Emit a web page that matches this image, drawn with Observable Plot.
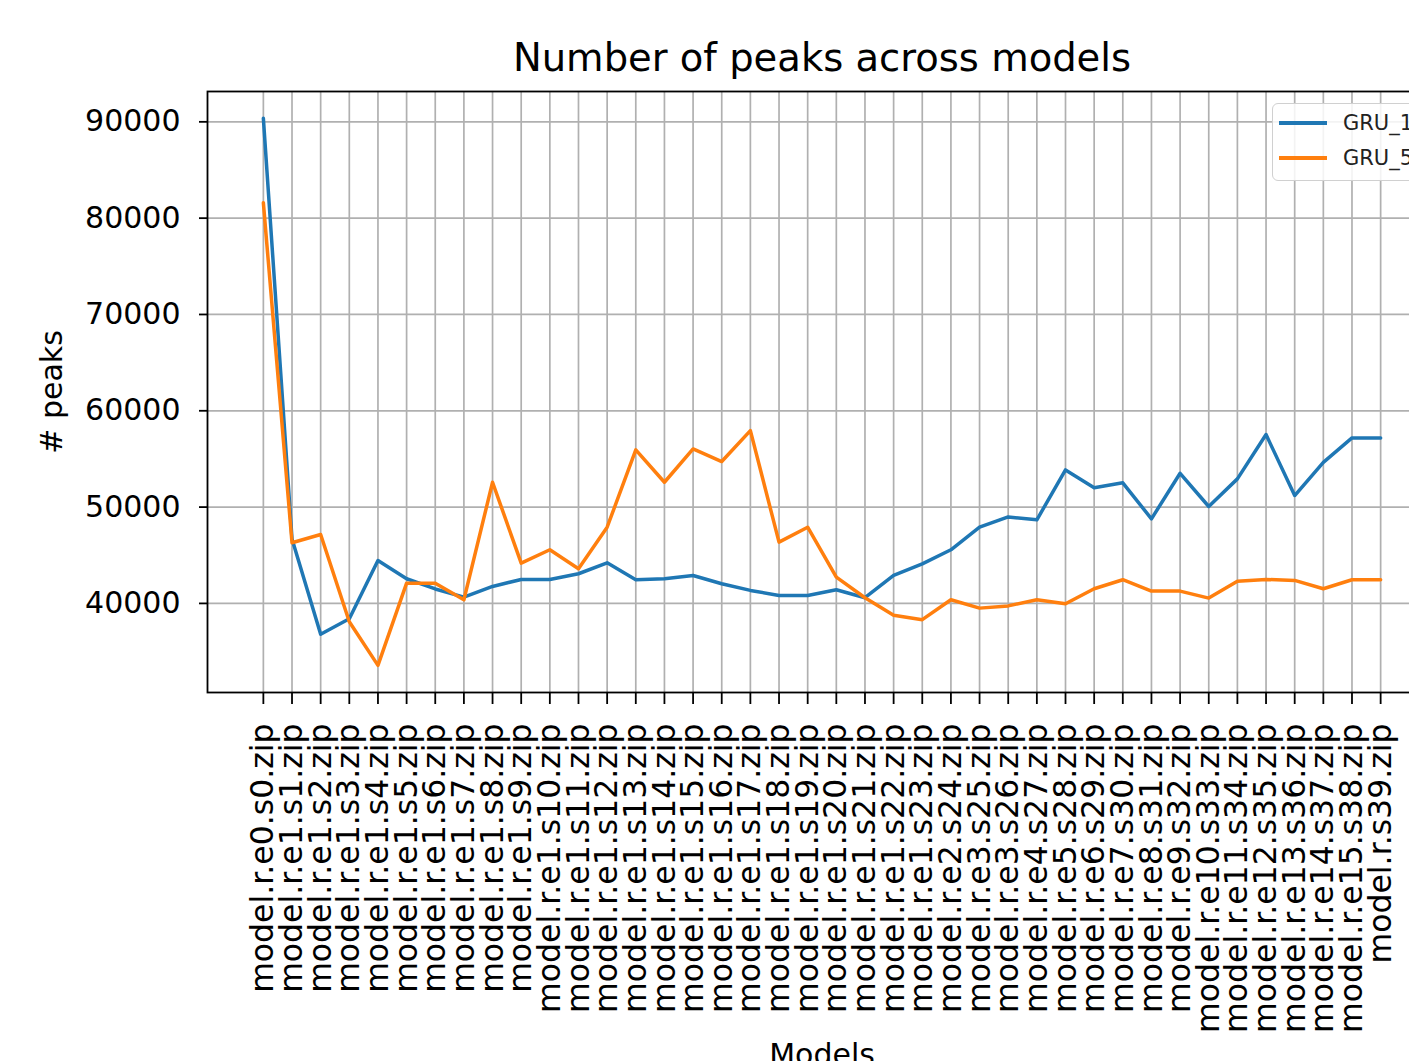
<!DOCTYPE html>
<html>
<head>
<meta charset="utf-8">
<script src="https://cdn.jsdelivr.net/npm/d3@7"></script>
<script src="https://cdn.jsdelivr.net/npm/@observablehq/plot@0.6"></script>
<style>
  html, body { margin: 0; padding: 0; background: #fff; overflow: hidden; width: 1409px; height: 1061px; }
  #wrap { position: relative; width: 1480px; height: 1061px; }
  #legend {
    position: absolute; left: 1272px; top: 103px; width: 200px; height: 76px;
    border: 1.5px solid #d0d0d0; border-radius: 6px; background: rgba(255,255,255,0.85);
    font-family: "DejaVu Sans", sans-serif; font-size: 21px; color: #222;
  }
  .item { position: absolute; left: 6px; height: 24px; display: flex; align-items: center; }
  .sw { width: 48px; height: 3.3px; margin-right: 16px; }
</style>
</head>
<body>
<div id="wrap"><div id="chart"></div>
<div id="legend"></div>
</div>
<script>
const models = [
  "model.r.e0.s0.zip","model.r.e1.s1.zip","model.r.e1.s2.zip","model.r.e1.s3.zip","model.r.e1.s4.zip",
  "model.r.e1.s5.zip","model.r.e1.s6.zip","model.r.e1.s7.zip","model.r.e1.s8.zip","model.r.e1.s9.zip",
  "model.r.e1.s10.zip","model.r.e1.s11.zip","model.r.e1.s12.zip","model.r.e1.s13.zip","model.r.e1.s14.zip",
  "model.r.e1.s15.zip","model.r.e1.s16.zip","model.r.e1.s17.zip","model.r.e1.s18.zip","model.r.e1.s19.zip",
  "model.r.e1.s20.zip","model.r.e1.s21.zip","model.r.e1.s22.zip","model.r.e1.s23.zip","model.r.e2.s24.zip",
  "model.r.e3.s25.zip","model.r.e3.s26.zip","model.r.e4.s27.zip","model.r.e5.s28.zip","model.r.e6.s29.zip",
  "model.r.e7.s30.zip","model.r.e8.s31.zip","model.r.e9.s32.zip","model.r.e10.s33.zip","model.r.e11.s34.zip",
  "model.r.e12.s35.zip","model.r.e13.s36.zip","model.r.e14.s37.zip","model.r.e15.s38.zip","model.r.s39.zip"
];
const seriesNames = ["GRU_1", "GRU_5"];
const gru1 = [
  90370, 46700, 36800, 38400, 44460, 42560, 41500, 40650, 41760, 42490,
  42490, 43080, 44220, 42460, 42560, 42900, 42040, 41350, 40830, 40830,
  41420, 40590, 42900, 44110, 45570, 47910, 48980, 48680, 53860, 52000,
  52520, 48780, 53510, 50060, 52930, 57530, 51200, 54650, 57180, 57180
];
const gru5 = [
  81600, 46300, 47150, 38100, 33570, 42100, 42100, 40380, 52580, 44180,
  45570, 43600, 47910, 55940, 52580, 56040, 54730, 57940, 46360, 47910,
  42730, 40590, 38760, 38310, 40380, 39510, 39740, 40380, 39960, 41520,
  42460, 41280, 41280, 40550, 42310, 42490, 42390, 41520, 42460, 42460
];
const yTicks = [40000, 50000, 60000, 70000, 80000, 90000];
const colors = ["#1f77b4", "#ff7f0e"];

const data = [];
models.forEach((m, i) => {
  data.push({model: m, value: gru1[i], series: seriesNames[0]});
  data.push({model: m, value: gru5[i], series: seriesNames[1]});
});

const chart = Plot.plot({
  width: 1480,
  height: 1061,
  marginLeft: 207,
  marginRight: 44,
  marginTop: 91,
  marginBottom: 369,
  style: {fontFamily: "DejaVu Sans, sans-serif", fontSize: "30px", color: "#000", background: "#fff", overflow: "visible"},
  x: {type: "point", domain: models, padding: 1.95, round: false},
  y: {domain: [30750, 93150]},
  color: {domain: seriesNames, range: colors},
  marks: [
    Plot.gridX({stroke: "#b0b0b0", strokeOpacity: 1, strokeWidth: 1.7}),
    Plot.gridY(yTicks, {stroke: "#b0b0b0", strokeOpacity: 1, strokeWidth: 1.7}),
    Plot.line(data, {x: "model", y: "value", stroke: "series", strokeWidth: 3.5}),
    Plot.frame({stroke: "#000", strokeWidth: 1.8}),
    Plot.axisY(yTicks, {tickSize: 8, tickPadding: 19, tickFormat: d => String(d), fontSize: 30, label: null, strokeWidth: 1.8}),
    Plot.axisX({tickRotate: -90, tickSize: 12, tickPadding: 19, fontSize: 31.5, label: null, strokeWidth: 1.8}),
    Plot.text(["Number of peaks across models"], {frameAnchor: "top", lineAnchor: "middle", textAnchor: "middle", dy: -33, fontSize: 38.5, text: d => d}),
    Plot.text(["# peaks"], {frameAnchor: "left", lineAnchor: "middle", textAnchor: "middle", dx: -155, rotate: -90, fontSize: 30, text: d => d}),
    Plot.text(["Models"], {frameAnchor: "bottom", lineAnchor: "middle", textAnchor: "middle", dy: 363, fontSize: 30, text: d => d})
  ]
});
document.getElementById("chart").appendChild(chart);

const legend = document.getElementById("legend");
seriesNames.forEach((s, i) => {
  const item = document.createElement("div");
  item.className = "item";
  item.style.top = (i === 0 ? 7 : 42) + "px";
  const sw = document.createElement("div");
  sw.className = "sw";
  sw.style.background = colors[i];
  const t = document.createElement("span");
  t.textContent = s;
  item.appendChild(sw);
  item.appendChild(t);
  legend.appendChild(item);
});
</script>
</body>
</html>
